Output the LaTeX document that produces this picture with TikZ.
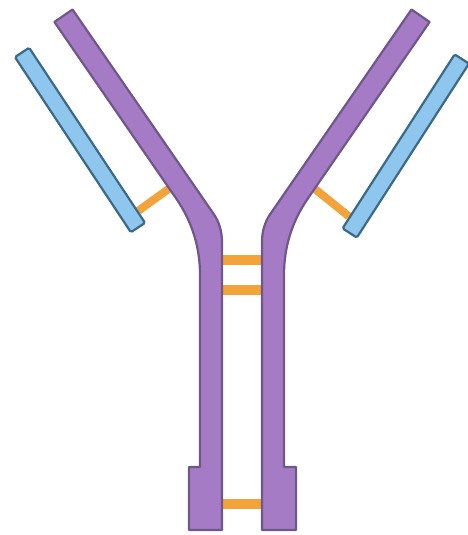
\documentclass[tikz,border=0pt]{standalone}
\usetikzlibrary{calc,positioning,shapes}
\pgfdeclarelayer{back}
\pgfsetlayers{back,main}

\definecolor{heavyfill}{HTML}{A47BC4}
\definecolor{heavyedge}{HTML}{6F578C}
\definecolor{lightfill}{HTML}{8EC6EE}
\definecolor{lightedge}{HTML}{3B6A88}
\definecolor{bondorange}{HTML}{F2A33A}

\tikzset{
  heavy/.style={draw=heavyedge, fill=heavyfill, line width=2.2pt, line join=round},
  light/.style={draw=lightedge, fill=lightfill, line width=2.2pt, rectangle,
    rounded corners=1.5pt, inner sep=0pt, minimum height=17pt},
  bond/.style={draw=bondorange, line width=8pt}
}

\begin{document}
\begin{tikzpicture}[x=1pt,y=-1pt]
  \useasboundingbox (0,0) rectangle (468,535);

  % heavy chains
  \draw [heavy] (54.4,22) -- (72.5,9.5) -- (213.5,213.7)
    .. controls (219.2,221.9) and (222,231.3) .. (222,242) -- (222,530)
    -- (189,530) -- (189,467) -- (200,467) -- (200,275)
    .. controls (200,247) and (192,221.5) .. (176.1,198.4) -- cycle;
  \draw [heavy] (429.6,22) -- (411.5,9.5) -- (270.5,213.7)
    .. controls (264.8,221.9) and (262,231.3) .. (262,242) -- (262,530)
    -- (296,530) -- (296,467) -- (284,467) -- (284,275)
    .. controls (284,247) and (292,221.5) .. (307.9,198.4) -- cycle;

  % light chains
  \coordinate (light_left_top) at (21.5,51.5);
  \coordinate (light_left_bot) at (138.5,228.5);
  \node [light, minimum width=210pt, rotate=-56.5] (light_left)
    at ($(light_left_top)!.5!(light_left_bot)$) {};

  \coordinate (light_right_top) at (462.5,58);
  \coordinate (light_right_bot) at (349,234);
  \node [light, minimum width=207pt, rotate=57.2] (light_right)
    at ($(light_right_top)!.5!(light_right_bot)$) {};

  % disulfide bonds
  \coordinate (heavy_left_bond) at (174,185);
  \coordinate (heavy_right_bond) at (310,185);
  \foreach \y/\name in {260/hinge_a, 290/hinge_b, 504/tail}{
    \coordinate (\name_l) at (215,\y);
    \coordinate (\name_r) at (269,\y);
  }

  \begin{pgfonlayer}{back}
    \draw [bond] ($(light_left.north east)!.07!(light_left.north west)$) -- (heavy_left_bond);
    \draw [bond] ($(light_right.north west)!.07!(light_right.north east)$) -- (heavy_right_bond);
    \draw [bond, line width=9.5pt] (hinge_a_l) -- (hinge_a_r);
    \draw [bond, line width=9.5pt] (hinge_b_l) -- (hinge_b_r);
    \draw [bond, line width=10pt] (tail_l) -- (tail_r);
  \end{pgfonlayer}

\end{tikzpicture}
\end{document}
